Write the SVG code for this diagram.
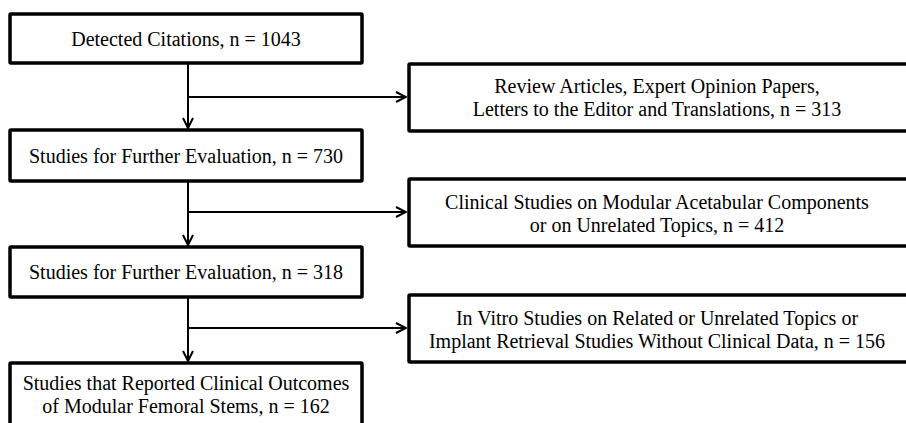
<svg xmlns="http://www.w3.org/2000/svg" width="906" height="423" viewBox="0 0 906 423">
<style>
.box{fill:#fff;stroke:#000;stroke-width:3.5}
.t{font-family:"Liberation Serif","Times New Roman",serif;font-size:20px;fill:#000;text-anchor:middle}
.c{fill:none;stroke:#000;stroke-width:2}
</style>
<defs>
<marker id="ah" viewBox="0 0 12 12" refX="11" refY="6" markerWidth="12" markerHeight="12" markerUnits="userSpaceOnUse" orient="auto">
<path d="M1,1 L11,6 L1,11" fill="none" stroke="#000" stroke-width="2"/>
</marker>
</defs>
<rect width="906" height="423" fill="#fff"/>
<g id="connectors">
<line class="c" x1="188" y1="64" x2="188" y2="128" marker-end="url(#ah)"/>
<line class="c" x1="188" y1="97" x2="406" y2="97" marker-end="url(#ah)"/>
<line class="c" x1="188" y1="182" x2="188" y2="245" marker-end="url(#ah)"/>
<line class="c" x1="188" y1="212" x2="406" y2="212" marker-end="url(#ah)"/>
<line class="c" x1="188" y1="298" x2="188" y2="361" marker-end="url(#ah)"/>
<line class="c" x1="188" y1="328" x2="406" y2="328" marker-end="url(#ah)"/>
</g>
<g id="n1"><rect class="box" x="10" y="14" width="352" height="49" rx="1"/><text class="t" x="186" y="46">Detected Citations, n = 1043</text></g>
<g id="n2"><rect class="box" x="10" y="130" width="352" height="51" rx="1"/><text class="t" x="186" y="163">Studies for Further Evaluation, n = 730</text></g>
<g id="n3"><rect class="box" x="10" y="247" width="352" height="50" rx="1"/><text class="t" x="186" y="279">Studies for Further Evaluation, n = 318</text></g>
<g id="n4"><rect class="box" x="10" y="363" width="352" height="64" rx="1"/><text class="t" x="186" y="390">Studies that Reported Clinical Outcomes</text><text class="t" x="186" y="413">of Modular Femoral Stems, n = 162</text></g>
<g id="r1"><rect class="box" x="409" y="64" width="505" height="67" rx="1"/><text class="t" x="657" y="93">Review Articles, Expert Opinion Papers,</text><text class="t" x="657" y="116">Letters to the Editor and Translations, n = 313</text></g>
<g id="r2"><rect class="box" x="409" y="179" width="505" height="67" rx="1"/><text class="t" x="657" y="209">Clinical Studies on Modular Acetabular Components</text><text class="t" x="657" y="232">or on Unrelated Topics, n = 412</text></g>
<g id="r3"><rect class="box" x="409" y="295" width="505" height="67" rx="1"/><text class="t" x="657" y="325">In Vitro Studies on Related or Unrelated Topics or</text><text class="t" x="657" y="348">Implant Retrieval Studies Without Clinical Data, n = 156</text></g>
</svg>
